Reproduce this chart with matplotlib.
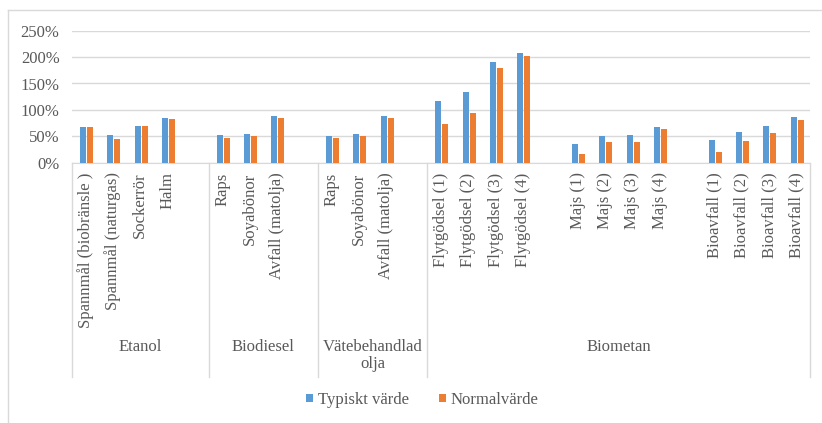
import numpy as np
import matplotlib
matplotlib.use("Agg")
import matplotlib.pyplot as plt
from matplotlib.lines import Line2D

# Category rows as in the source sheet; empty strings are blank spacer rows
labels = ["Spannmål (biobränsle )", "Spannmål (naturgas)", "Sockerrör", "Halm", "",
          "Raps", "Soyabönor", "Avfall (matolja)", "",
          "Raps", "Soyabönor", "Avfall (matolja)", "",
          "Flytgödsel (1)", "Flytgödsel (2)", "Flytgödsel (3)", "Flytgödsel (4)", "",
          "Majs (1)", "Majs (2)", "Majs (3)", "Majs (4)", "",
          "Bioavfall (1)", "Bioavfall (2)", "Bioavfall (3)", "Bioavfall (4)"]
groups = ["Etanol", "Biodiesel", "Vätebehandlad\nolja", "Biometan"]
group_sizes = [5, 4, 4, 14]

nan = np.nan
typiskt = [67, 52, 70, 85, nan,
           52, 54, 88, nan,
           51, 54, 88, nan,
           117, 133, 191, 207, nan,
           35, 50, 52, 68, nan,
           43, 59, 70, 86]
normal = [67, 45, 70, 83, nan,
          47, 50, 85, nan,
          47, 51, 84, nan,
          73, 94, 180, 203, nan,
          16, 39, 40, 63, nan,
          20, 42, 57, 80]
series_names = ["Typiskt värde", "Normalvärde"]

BLUE = "#5B9BD5"
ORANGE = "#ED7D31"
GRID = "#D9D9D9"
TEXT = "#595959"
FS = 12

plt.rcParams["font.family"] = ["Liberation Serif", "DejaVu Serif"]
plt.rcParams["font.size"] = FS

W, H = 822, 423
fig = plt.figure(figsize=(W / 100, H / 100), dpi=100)
ax = fig.add_axes([72 / W, 1 - 162.7 / H, (810 - 72) / W, (162.7 - 30.7) / H])

x = np.arange(len(labels))
t = np.array(typiskt) / 100
n = np.array(normal) / 100
w = 0.22
ax.bar(x - 0.1, t, w, color=BLUE, label=series_names[0], zorder=3)
ax.bar(x + 0.16, n, w, color=ORANGE, label=series_names[1], zorder=3)

ax.set_xlim(-0.5, len(labels) - 0.5)
ax.set_ylim(0, 2.5)
ax.set_yticks(np.arange(0, 2.51, 0.5))
ax.set_yticklabels([f"{int(v * 100)}%" for v in np.arange(0, 2.51, 0.5)])
ax.yaxis.grid(True, color=GRID, linewidth=1)
ax.set_axisbelow(True)
for s in ["top", "right", "left"]:
    ax.spines[s].set_visible(False)
ax.spines["bottom"].set_color(GRID)
ax.tick_params(axis="y", length=0, pad=9, colors=TEXT)
ax.tick_params(axis="x", length=0, pad=7, colors=TEXT)
ax.set_xticks(x)
ax.set_xticklabels(labels, rotation=90, va="top", ha="center")

# multi-level axis: separators and group names
trans = ax.get_xaxis_transform()
axh = 162.7 - 30.7
sep_bottom = -(377 - 162.7) / axh
label_y = -(339 - 162.7) / axh
edges = np.concatenate([[0], np.cumsum(group_sizes)]) - 0.5
for e in edges:
    ax.add_line(Line2D([e, e], [0, sep_bottom], transform=trans, color=GRID,
                       linewidth=1, clip_on=False))
for g, a, b in zip(groups, edges[:-1], edges[1:]):
    ax.text((a + b) / 2, label_y, g, transform=trans, ha="center", va="top",
            color=TEXT, linespacing=1.05, multialignment="center")

fig.legend(loc="center", bbox_to_anchor=(422 / W, 1 - 400 / H), ncol=2,
           frameon=False, handlelength=0.44, handleheight=0.3,
           handletextpad=0.25, columnspacing=1.8, labelcolor=TEXT,
           prop={"family": "Liberation Serif", "size": FS})

# chart border (cropped at right and bottom)
fig.add_artist(Line2D([8 / W, 1], [1 - 10 / H, 1 - 10 / H], color=GRID, linewidth=1))
fig.add_artist(Line2D([8 / W, 8 / W], [0, 1 - 10 / H], color=GRID, linewidth=1))

fig.savefig("out.png", dpi=100)
